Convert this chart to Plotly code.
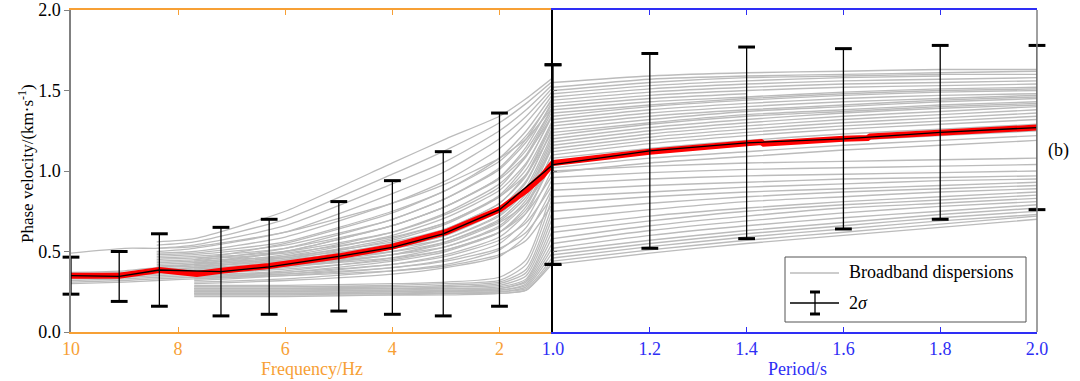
import plotly.graph_objects as go

N = None
# ---------------- data ----------------
FREQ = [10, 9, 8.4, 7.7, 6, 4, 3, 2, 1.5, 1]
LEFT_CURVES = [
    [0.49, 0.52, 0.52, 0.53, 0.62, 0.80, 0.92, 1.08, 1.20, 1.40],
    [0.37, 0.38, 0.40, 0.42, 0.50, 0.66, 0.78, 0.95, 1.10, 1.35],
    [0.36, 0.37, 0.38, 0.40, 0.46, 0.58, 0.68, 0.84, 0.98, 1.25],
    [0.35, 0.36, 0.37, 0.38, 0.43, 0.52, 0.60, 0.75, 0.88, 1.15],
    [0.34, 0.35, 0.36, 0.37, 0.41, 0.48, 0.55, 0.68, 0.80, 1.05],
    [0.33, 0.34, 0.35, 0.36, 0.39, 0.45, 0.51, 0.62, 0.74, 0.98],
    [0.32, 0.33, 0.34, 0.35, 0.37, 0.42, 0.47, 0.57, 0.68, 0.92],
    [0.31, 0.32, 0.33, 0.34, 0.36, 0.40, 0.44, 0.52, 0.62, 0.85],
    [0.30, 0.31, 0.32, 0.33, 0.35, 0.38, 0.41, 0.48, 0.57, 0.80],
    [N, N, 0.56, 0.58, 0.75, 1.05, 1.20, 1.34, 1.45, 1.58],
    [N, N, 0.54, 0.56, 0.70, 0.98, 1.13, 1.30, 1.42, 1.56],
    [N, N, 0.52, 0.54, 0.66, 0.92, 1.06, 1.25, 1.38, 1.54],
    [N, N, 0.50, 0.52, 0.62, 0.86, 1.00, 1.20, 1.34, 1.52],
    [N, N, 0.49, 0.50, 0.59, 0.80, 0.94, 1.14, 1.30, 1.50],
    [N, N, 0.48, 0.49, 0.56, 0.75, 0.88, 1.08, 1.25, 1.48],
    [N, N, 0.47, 0.48, 0.54, 0.70, 0.83, 1.02, 1.20, 1.46],
    [N, N, 0.46, 0.47, 0.52, 0.66, 0.78, 0.96, 1.15, 1.44],
    [N, N, 0.45, 0.46, 0.50, 0.62, 0.73, 0.90, 1.10, 1.40],
    [N, N, 0.44, 0.45, 0.49, 0.59, 0.68, 0.85, 1.04, 1.36],
    [N, N, 0.43, 0.44, 0.47, 0.56, 0.64, 0.80, 0.98, 1.32],
    [N, N, 0.42, 0.43, 0.46, 0.54, 0.61, 0.76, 0.93, 1.28],
    [N, N, 0.41, 0.42, 0.45, 0.52, 0.58, 0.72, 0.88, 1.22],
    [N, N, 0.40, 0.41, 0.44, 0.50, 0.56, 0.69, 0.84, 1.18],
    [N, N, 0.39, 0.40, 0.42, 0.48, 0.53, 0.65, 0.80, 1.12],
    [N, N, 0.38, 0.39, 0.41, 0.46, 0.51, 0.62, 0.76, 1.06],
    [N, N, N, 0.45, 0.55, 0.74, 0.88, 1.06, 1.22, 1.45],
    [N, N, N, 0.44, 0.52, 0.70, 0.83, 1.01, 1.18, 1.42],
    [N, N, N, 0.43, 0.50, 0.66, 0.78, 0.96, 1.13, 1.40],
    [N, N, N, 0.42, 0.48, 0.62, 0.74, 0.92, 1.09, 1.38],
    [N, N, N, 0.41, 0.47, 0.60, 0.71, 0.88, 1.05, 1.35],
    [N, N, N, 0.40, 0.45, 0.57, 0.67, 0.84, 1.01, 1.32],
    [N, N, N, 0.39, 0.44, 0.55, 0.64, 0.80, 0.97, 1.30],
    [N, N, N, 0.38, 0.42, 0.52, 0.61, 0.77, 0.94, 1.27],
    [N, N, N, 0.37, 0.41, 0.50, 0.58, 0.73, 0.90, 1.24],
    [N, N, N, 0.36, 0.40, 0.48, 0.56, 0.70, 0.86, 1.20],
    [N, N, N, 0.35, 0.38, 0.46, 0.53, 0.66, 0.82, 1.16],
    [N, N, N, 0.34, 0.37, 0.44, 0.50, 0.62, 0.78, 1.12],
    [N, N, N, 0.33, 0.36, 0.42, 0.48, 0.59, 0.74, 1.08],
    [N, N, N, 0.32, 0.35, 0.40, 0.45, 0.55, 0.70, 1.02],
    [N, N, N, 0.31, 0.33, 0.38, 0.42, 0.51, 0.65, 0.96],
    [N, N, N, 0.30, 0.32, 0.36, 0.40, 0.47, 0.60, 0.90],
    [N, N, N, 0.29, 0.29, 0.30, 0.31, 0.34, 0.45, 0.90],
    [N, N, N, 0.28, 0.28, 0.29, 0.30, 0.32, 0.42, 0.85],
    [N, N, N, 0.28, 0.28, 0.28, 0.29, 0.31, 0.39, 0.80],
    [N, N, N, 0.27, 0.27, 0.28, 0.28, 0.30, 0.37, 0.76],
    [N, N, N, 0.27, 0.27, 0.27, 0.28, 0.29, 0.35, 0.72],
    [N, N, N, 0.26, 0.26, 0.27, 0.27, 0.28, 0.33, 0.68],
    [N, N, N, 0.26, 0.26, 0.26, 0.27, 0.27, 0.32, 0.64],
    [N, N, N, 0.25, 0.25, 0.26, 0.26, 0.27, 0.31, 0.60],
    [N, N, N, 0.25, 0.25, 0.25, 0.26, 0.26, 0.30, 0.56],
    [N, N, N, 0.24, 0.24, 0.25, 0.25, 0.26, 0.29, 0.53],
    [N, N, N, 0.24, 0.24, 0.24, 0.25, 0.25, 0.28, 0.50],
    [N, N, N, 0.23, 0.23, 0.24, 0.24, 0.25, 0.27, 0.47],
    [N, N, N, 0.23, 0.23, 0.23, 0.24, 0.24, 0.26, 0.45],
    [N, N, N, 0.22, 0.22, 0.23, 0.23, 0.24, 0.26, 0.43],
]

PERIOD = [1.0, 1.2, 1.4, 1.6, 1.8, 2.0]
RIGHT_CURVES = [
    [1.55, 1.59, 1.61, 1.62, 1.63, 1.63],
    [1.52, 1.57, 1.59, 1.60, 1.61, 1.62],
    [1.50, 1.55, 1.58, 1.59, 1.60, 1.60],
    [1.48, 1.53, 1.56, 1.58, 1.59, N],
    [1.46, 1.51, 1.54, 1.56, 1.57, 1.58],
    [1.44, 1.49, 1.52, 1.54, 1.55, 1.56],
    [1.42, 1.47, 1.50, 1.52, 1.53, 1.54],
    [1.40, 1.45, 1.48, N, N, N],
    [1.38, 1.43, 1.46, 1.49, 1.51, 1.52],
    [1.36, 1.41, 1.45, 1.48, 1.50, 1.51],
    [1.34, 1.40, 1.44, 1.47, 1.49, 1.50],
    [1.32, 1.38, 1.42, 1.45, 1.47, 1.48],
    [1.30, 1.36, 1.40, 1.43, 1.45, 1.47],
    [1.28, 1.34, 1.38, 1.41, 1.44, 1.46],
    [1.26, 1.32, 1.37, 1.40, 1.43, 1.45],
    [1.24, 1.30, 1.35, 1.38, 1.41, 1.43],
    [1.22, 1.29, 1.34, 1.37, 1.40, 1.42],
    [1.20, 1.27, 1.32, 1.36, 1.39, 1.41],
    [1.18, 1.25, 1.30, 1.34, 1.37, 1.40],
    [1.16, 1.23, 1.28, 1.32, 1.35, 1.38],
    [1.14, 1.21, 1.26, 1.30, 1.33, 1.36],
    [1.12, 1.19, 1.24, 1.28, 1.31, 1.34],
    [1.10, 1.17, 1.22, 1.26, 1.29, 1.32],
    [1.08, 1.14, 1.19, 1.23, 1.26, 1.29],
    [1.05, 1.11, 1.16, 1.19, 1.22, 1.25],
    [1.02, 1.08, 1.12, 1.16, 1.19, 1.22],
    [0.99, 1.05, 1.09, 1.13, 1.16, 1.19],
    [1.00, 1.03, 1.05, 1.06, 1.07, 1.08],
    [0.96, 0.99, 1.01, 1.02, 1.03, 1.04],
    [0.92, 0.95, 0.97, 0.98, 0.99, 1.00],
    [0.88, 0.91, 0.93, 0.95, 0.96, 0.97],
    [0.84, 0.87, 0.90, 0.92, 0.94, 0.95],
    [0.80, 0.84, 0.87, 0.89, 0.91, 0.93],
    [0.75, 0.80, 0.84, 0.87, 0.89, 0.91],
    [0.70, 0.76, 0.81, 0.84, 0.87, 0.89],
    [0.65, 0.72, 0.77, 0.81, 0.84, 0.87],
    [0.62, 0.69, 0.75, 0.79, 0.82, 0.85],
    [0.58, 0.66, 0.72, 0.77, 0.80, 0.83],
    [0.55, 0.63, 0.69, 0.74, 0.78, 0.81],
    [0.52, 0.60, 0.66, 0.71, 0.75, 0.79],
    [0.50, 0.57, 0.63, 0.68, 0.73, 0.77],
    [0.48, 0.55, 0.61, 0.66, 0.71, 0.75],
    [0.46, 0.53, 0.59, 0.64, 0.69, 0.73],
    [0.44, 0.51, 0.57, 0.62, 0.67, 0.72],
    [0.42, 0.49, 0.55, 0.60, 0.65, 0.70],
]

MEAN_F = [10, 9.1, 8.35, 7.65, 7.2, 6.3, 5.0, 4.0, 3.0, 2.0, 1.5, 1.2, 1.0]
MEAN_F_V = [0.35, 0.35, 0.385, 0.36, 0.38, 0.41, 0.47, 0.53, 0.62, 0.76, 0.88, 0.97, 1.05]
MEAN_P = [1.0, 1.2, 1.43, 1.435, 1.6, 1.65, 1.655, 1.8, 1.81, 2.0]
MEAN_P_V = [1.05, 1.12, 1.18, 1.17, 1.20, 1.205, 1.215, 1.235, 1.245, 1.27]

SIG_F = [10, 9.1, 8.35, 7.2, 6.3, 5.0, 4.0, 3.05, 2.0, 1.0]
SIG_F_MEAN = [0.35, 0.345, 0.385, 0.375, 0.405, 0.47, 0.525, 0.61, 0.76, 1.04]
SIG_F_HALF = [0.115, 0.155, 0.225, 0.275, 0.295, 0.34, 0.415, 0.51, 0.60, 0.62]
SIG_P = [1.0, 1.2, 1.4, 1.6, 1.8, 2.0]
SIG_P_MEAN = [1.04, 1.125, 1.175, 1.20, 1.24, 1.27]
SIG_P_HALF = [0.62, 0.605, 0.595, 0.56, 0.54, 0.51]

# ---------------- style ----------------
FONT = "Liberation Serif, Times New Roman, serif"
GRAY = "#BBBBBB"
ORANGE = "#F7A035"
BLUE = "#2E2EF5"
W, H = 1080, 381
L, T, R, B = 71, 10, 43, 49
PW, PH = W - L - R, H - T - B


def px(x):
    return (x - L) / PW


def py(y):
    return (H - B - y) / PH


fig = go.Figure()

for c in LEFT_CURVES:
    fig.add_trace(go.Scatter(x=FREQ, y=c, mode="lines", xaxis="x", yaxis="y",
                             line=dict(color=GRAY, width=1.3, shape="spline", smoothing=0.6),
                             showlegend=False, hoverinfo="skip"))
for c in RIGHT_CURVES:
    fig.add_trace(go.Scatter(x=PERIOD, y=c, mode="lines", xaxis="x2", yaxis="y2",
                             line=dict(color=GRAY, width=1.4, shape="spline", smoothing=0.6),
                             showlegend=False, hoverinfo="skip"))

fig.add_trace(go.Scatter(x=MEAN_F, y=MEAN_F_V, mode="lines", xaxis="x", yaxis="y",
                         line=dict(color="#FF0000", width=6), showlegend=False))
fig.add_trace(go.Scatter(x=MEAN_P, y=MEAN_P_V, mode="lines", xaxis="x2", yaxis="y2",
                         line=dict(color="#FF0000", width=6), showlegend=False))

for xs, m, h, xa, ya in [(SIG_F, SIG_F_MEAN, SIG_F_HALF, "x", "y"),
                         (SIG_P, SIG_P_MEAN, SIG_P_HALF, "x2", "y2")]:
    fig.add_trace(go.Scatter(x=xs, y=m, mode="lines", xaxis=xa, yaxis=ya,
                             line=dict(color="black", width=1.3),
                             error_y=dict(type="data", array=h, symmetric=True,
                                          color="black", thickness=1.3, width=0),
                             cliponaxis=False, showlegend=False))
    caps_x = list(xs) + list(xs)
    caps_y = [a + b for a, b in zip(m, h)] + [a - b for a, b in zip(m, h)]
    fig.add_trace(go.Scatter(x=caps_x, y=caps_y, mode="markers", xaxis=xa, yaxis=ya,
                             marker=dict(symbol="line-ew", size=12,
                                         line=dict(color="black", width=3)),
                             cliponaxis=False, showlegend=False))

shapes = [
    dict(type="line", xref="paper", yref="paper", x0=1, x1=1, y0=0, y1=1,
         line=dict(color="#808080", width=1.5)),
    dict(type="rect", xref="paper", yref="paper", x0=px(785), x1=px(1026),
         y0=py(322), y1=py(257), fillcolor="white", line=dict(color="#555555", width=1)),
    dict(type="line", xref="paper", yref="paper", x0=px(790), x1=px(839),
         y0=py(273), y1=py(273), line=dict(color=GRAY, width=1.5)),
    dict(type="line", xref="paper", yref="paper", x0=px(790), x1=px(839),
         y0=py(303), y1=py(303), line=dict(color="black", width=1.3)),
    dict(type="line", xref="paper", yref="paper", x0=px(815), x1=px(815),
         y0=py(314), y1=py(292), line=dict(color="black", width=1.3)),
    dict(type="line", xref="paper", yref="paper", x0=px(810), x1=px(820),
         y0=py(292), y1=py(292), line=dict(color="black", width=3)),
    dict(type="line", xref="paper", yref="paper", x0=px(810), x1=px(820),
         y0=py(314), y1=py(314), line=dict(color="black", width=3)),
]

annotations = [
    dict(xref="paper", yref="paper", x=px(847), y=py(272), text="Broadband dispersions",
         showarrow=False, xanchor="left", yanchor="middle",
         font=dict(family=FONT, size=18, color="black")),
    dict(xref="paper", yref="paper", x=px(847), y=py(303), text="2<i>σ</i>",
         showarrow=False, xanchor="left", yanchor="middle",
         font=dict(family=FONT, size=18, color="black")),
    dict(xref="paper", yref="paper", x=px(1058), y=py(150), text="(b)",
         showarrow=False, xanchor="center", yanchor="middle",
         font=dict(family=FONT, size=18, color="black")),
    dict(xref="paper", yref="paper", x=px(312), y=py(369), text="Frequency/Hz",
         showarrow=False, xanchor="center", yanchor="middle",
         font=dict(family=FONT, size=18, color=ORANGE)),
    dict(xref="paper", yref="paper", x=px(797), y=py(369), text="Period/s",
         showarrow=False, xanchor="center", yanchor="middle",
         font=dict(family=FONT, size=18, color=BLUE)),
    dict(xref="paper", yref="paper", x=px(26), y=py(164),
         text="Phase velocity/(km·s<sup>-1</sup>)", textangle=-90,
         showarrow=False, xanchor="center", yanchor="middle",
         font=dict(family=FONT, size=17, color="black")),
]

fig.update_layout(
    template="none",
    width=W, height=H, margin=dict(l=L, r=R, t=T, b=B, autoexpand=False),
    paper_bgcolor="white", plot_bgcolor="white",
    font=dict(family=FONT, size=18, color="black"),
    showlegend=False,
    xaxis=dict(domain=[0, 0.499], range=[10, 1], tickvals=[10, 8, 6, 4, 2],
               ticktext=["10", "8", "6", "4", "2"], automargin=False,
               showline=True, linecolor=ORANGE, linewidth=1.5, mirror="ticks",
               ticks="inside", ticklen=5, tickcolor=ORANGE, showgrid=False, zeroline=False,
               tickfont=dict(family=FONT, size=18, color=ORANGE),
               ticklabeloverflow="allow", anchor="y"),
    xaxis2=dict(domain=[0.499, 1], range=[1, 2], tickvals=[1.0, 1.2, 1.4, 1.6, 1.8, 2.0],
                tickformat=".1f", automargin=False,
                showline=True, linecolor=BLUE, linewidth=1.5, mirror="ticks",
                ticks="inside", ticklen=5, tickcolor=BLUE, showgrid=False, zeroline=False,
                tickfont=dict(family=FONT, size=18, color=BLUE),
                ticklabeloverflow="allow", anchor="y2"),
    yaxis=dict(domain=[0, 1], range=[0, 2], tickvals=[0, 0.5, 1.0, 1.5, 2.0], tickformat=".1f",
               automargin=False,
               showline=True, linecolor="#808080", linewidth=1.5,
               ticks="outside", ticklen=5, tickcolor="#808080", showgrid=False, zeroline=False,
               tickfont=dict(family=FONT, size=18, color="black"),
               ticklabeloverflow="allow", anchor="x"),
    yaxis2=dict(domain=[0, 1], range=[0, 2], matches="y", tickvals=[0, 0.5, 1.0, 1.5, 2.0],
                showticklabels=False, showline=True, linecolor="black", linewidth=1.5,
                automargin=False,
                ticks="inside", ticklen=4, tickcolor="#808080", showgrid=False, zeroline=False,
                anchor="x2"),
    shapes=shapes,
    annotations=annotations,
)

fig.write_html("out.html", config={"displayModeBar": False},
               post_script="document.body.style.margin='0px';")
